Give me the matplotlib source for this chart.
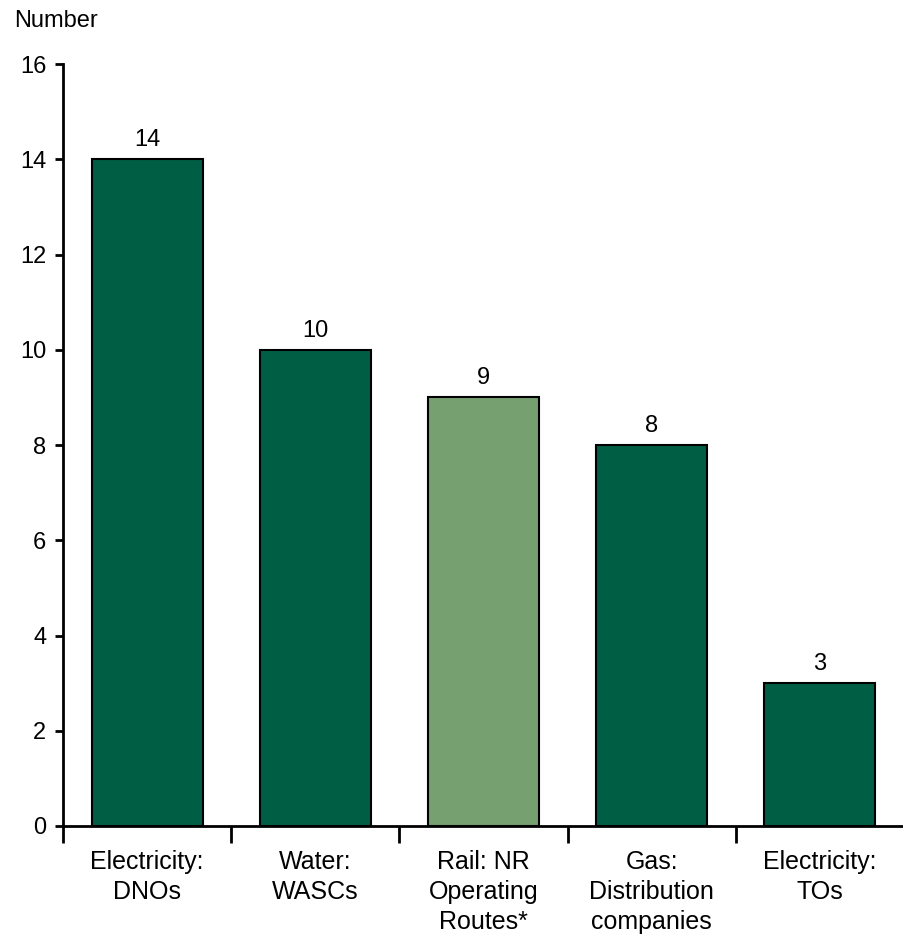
import numpy as np
import matplotlib
matplotlib.use("Agg")
import matplotlib.pyplot as plt

plt.rcParams['font.family'] = ['Liberation Sans', 'DejaVu Sans']

# Data ________________________________________________________________________
categories = ["Electricity:\nDNOs", "Water:\nWASCs", "Rail: NR\nOperating\nRoutes*",
              "Gas:\nDistribution\ncompanies", "Electricity:\nTOs"]
values = [14, 10, 9, 8, 3]
colours = ["#005E45", "#005E45", "#76A070", "#005E45", "#005E45"]

# Figure ______________________________________________________________________
fig = plt.figure(figsize=(9.04, 9.41), dpi=100)
ax = fig.add_axes([63 / 904, 1 - 826 / 941, 1 - 63 / 904, (826 - 64) / 941])

x = np.arange(len(categories))
ax.bar(x, values, width=0.66, color=colours, edgecolor="black", linewidth=1.5, zorder=3)

for xi, v in zip(x, values):
    ax.text(xi, v + 0.17, str(v), ha="center", va="bottom", fontsize=17)

ax.set_xlim(-0.5, len(categories) - 0.5)
ax.set_ylim(0, 16)
ax.set_yticks(range(0, 17, 2))
ax.tick_params(axis="y", labelsize=17, length=6, width=2, direction="out", pad=6)

# category boundary ticks, labels at centres
ax.set_xticks(np.arange(-0.5, len(categories), 1.0))
ax.set_xticklabels([])
ax.set_xticks(x, minor=True)
ax.set_xticklabels(categories, minor=True, fontsize=18, linespacing=1.33)
ax.tick_params(axis="x", which="major", length=12, width=2, direction="out")
ax.tick_params(axis="x", which="minor", length=0, pad=17)

for s in ["top", "right"]:
    ax.spines[s].set_visible(False)
ax.spines["left"].set_linewidth(2)
ax.spines["bottom"].set_linewidth(2)

fig.text(14 / 904, 1 - 21 / 941, "Number", fontsize=17, ha="left", va="center")

fig.savefig("out.png", dpi=100)
